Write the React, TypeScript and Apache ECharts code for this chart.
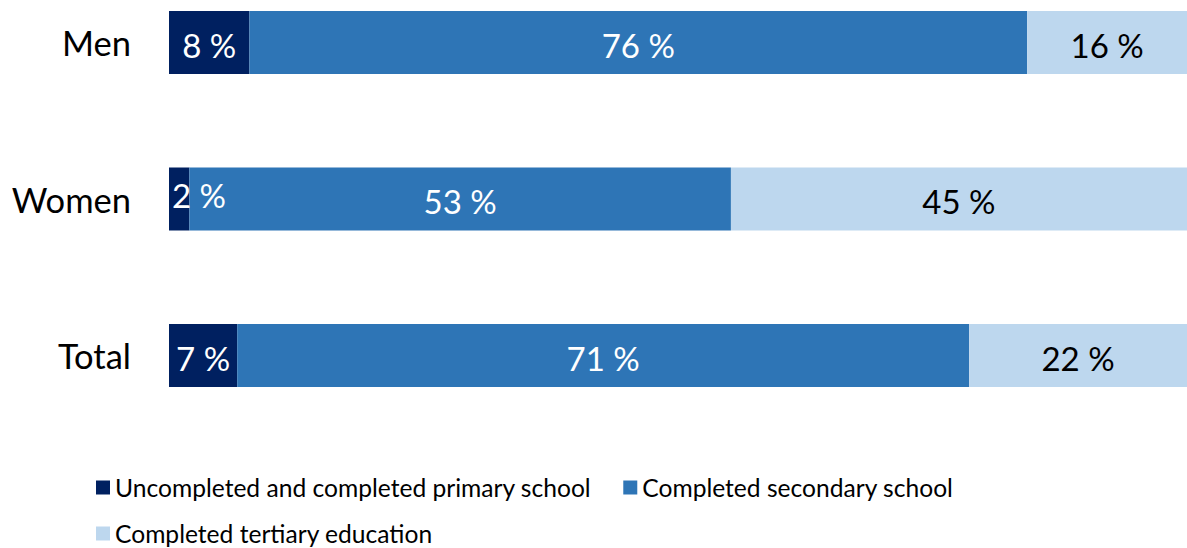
import React, { useEffect, useRef } from "react";
import * as echarts from "echarts";

const categories = ["Men", "Women", "Total"];
const seriesNames = [
  "Uncompleted and completed primary school",
  "Completed secondary school",
  "Completed tertiary education",
];
// segment shares as drawn (percent of bar length)
const primaryValues = [7.9, 2.0, 6.7];
const secondaryValues = [76.4, 53.2, 71.9];
const tertiaryValues = [15.7, 44.8, 21.4];
// printed labels
const primaryLabels = ["8 %", "2 %", "7 %"];
const secondaryLabels = ["76 %", "53 %", "71 %"];
const tertiaryLabels = ["16 %", "45 %", "22 %"];

const colors = ["#002060", "#2E75B6", "#BDD7EE"];
const FONT = "Lato, 'Open Sans', sans-serif";

export default function App() {
  const ref = useRef<HTMLDivElement>(null);
  useEffect(() => {
    if (!ref.current) return;
    const chart = echarts.init(ref.current, undefined, { renderer: "svg" });
    const values = [primaryValues, secondaryValues, tertiaryValues];
    const labels = [primaryLabels, secondaryLabels, tertiaryLabels];
    const series = values.map((vals, si) => ({
      name: seriesNames[si],
      type: "bar",
      stack: "total",
      barWidth: 63,
      clip: false,
      itemStyle: { color: colors[si] },
      label: {
        show: true,
        position: "inside",
        offset: [0, 2],
        fontFamily: FONT,
        fontSize: 33,
        color: si === 2 ? "#000000" : "#FFFFFF",
        formatter: (p: any) => labels[si][p.dataIndex],
      },
      data: vals.map((v, i) =>
        si === 0 && v < 4
          ? {
              value: v,
              label: { position: "insideLeft", distance: 3, offset: [0, -4] },
            }
          : v
      ),
    }));
    const legendText = { fontFamily: FONT, fontSize: 24.6, color: "#000000" };
    chart.setOption({
      animation: false,
      textStyle: { fontFamily: FONT },
      grid: { left: 169, right: 0, top: 42.5, height: 313 },
      xAxis: {
        type: "value",
        min: 0,
        max: 100,
        show: false,
      },
      yAxis: {
        type: "category",
        data: categories,
        inverse: true,
        boundaryGap: false,
        axisLine: { show: false },
        axisTick: { show: false },
        splitLine: { show: false },
        axisLabel: {
          margin: 38,
          fontFamily: FONT,
          fontSize: 34.5,
          color: "#000000",
        },
      },
      legend: [
        {
          data: [seriesNames[0], seriesNames[1]],
          left: 96,
          top: 475,
          padding: 0,
          icon: "rect",
          itemWidth: 14,
          itemHeight: 14,
          itemGap: 32,
          textStyle: legendText,
        },
        {
          data: [seriesNames[2]],
          left: 96,
          top: 521,
          padding: 0,
          icon: "rect",
          itemWidth: 14,
          itemHeight: 14,
          textStyle: legendText,
        },
      ],
      series,
    });
    return () => chart.dispose();
  }, []);
  return (
    <div
      ref={ref}
      style={{ position: "fixed", left: 0, top: 0, width: 1187, height: 548, background: "#ffffff" }}
    />
  );
}
